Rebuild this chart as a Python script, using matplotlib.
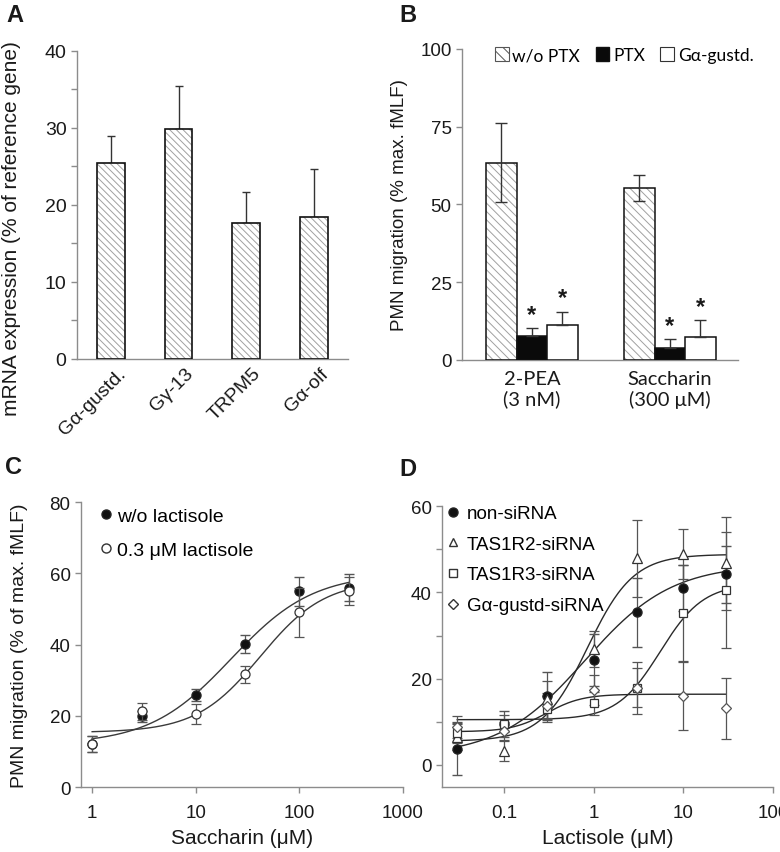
import numpy as np
import matplotlib.pyplot as plt
import matplotlib.transforms as mtransforms
from matplotlib.patches import Patch
from matplotlib.lines import Line2D
from matplotlib.ticker import MultipleLocator, FixedLocator, NullLocator

plt.rcParams['font.family'] = ['Liberation Sans', 'DejaVu Sans']
plt.rcParams['hatch.linewidth'] = 0.7

# --- Panel A: mRNA expression
genes = ['Gα-gustd.', 'Gγ-13', 'TRPM5', 'Gα-olf']
mrna = [25.4, 29.8, 17.6, 18.4]
mrna_err = [3.5, 5.7, 4.1, 6.3]

# --- Panel B: PMN migration, PTX / Gα-gustd.
stimuli = ['2-PEA\n(3 nM)', 'Saccharin\n(300 μM)']
b_series = ['w/o PTX', 'PTX', 'Gα-gustd.']
mig_ctrl = [63.5, 55.2]
mig_ctrl_err = [12.7, 4.2]
mig_ptx = [7.8, 4.0]
mig_ptx_err = [2.4, 2.6]
mig_gust = [11.2, 7.3]
mig_gust_err = [4.3, 5.5]

# --- Panel C: saccharin dose response
sacch = [1, 3, 10, 30, 100, 300]
c_ctrl = [12.0, 19.8, 25.9, 40.1, 54.9, 56.0]
c_ctrl_err = [2.3, 1.5, 1.7, 2.6, 4.1, 3.8]
c_lact = [12.1, 21.2, 20.5, 31.7, 49.0, 55.0]
c_lact_err = [2.3, 2.4, 2.8, 2.4, 7.0, 4.0]
# fitted curves (bottom, top, EC50, hill slope)
c_ctrl_fit = (12.0, 60.0, 22.0, 1.1)
c_lact_fit = (15.3, 58.0, 42.0, 1.4)

# --- Panel D: lactisole dose response
lact = [0.03, 0.1, 0.3, 1, 3, 10, 30]
d_non = [3.7, 9.5, 16.0, 24.3, 35.4, 41.0, 44.2]
d_non_err = [6.0, 2.9, 5.5, 6.0, 8.0, 5.3, 6.6]
d_r2 = [6.4, 3.3, 15.2, 26.9, 47.9, 48.9, 46.7]
d_r2_err = [3.0, 2.3, 4.3, 4.2, 8.9, 5.8, 10.8]
d_r3 = [7.5, 9.6, 13.0, 14.3, 17.8, 35.1, 40.5]
d_r3_err = [2.5, 2.0, 3.0, 2.7, 6.0, 11.3, 13.4]
d_gust = [8.8, 7.9, 13.7, 17.4, 17.9, 16.1, 13.1]
d_gust_err = [2.5, 2.0, 3.0, 3.5, 4.5, 8.0, 7.1]
d_non_fit = (2.0, 46.5, 0.8, 0.9)
d_r2_fit = (5.5, 48.8, 0.85, 1.7)
d_r3_fit = (10.5, 42.0, 5.5, 1.8)
d_gust_fit = (7.7, 16.4, 0.3, 2.2)


def hill(x, bottom, top, ec50, h):
    return bottom + (top - bottom) / (1 + (ec50 / x) ** h)


AX = '#8c8c8c'
TXT = '#1a1a1a'
FS = 13.5


def style(ax, size=FS):
    for s in ['top', 'right']:
        ax.spines[s].set_visible(False)
    for s in ['left', 'bottom']:
        ax.spines[s].set_color(AX)
        ax.spines[s].set_linewidth(1.0)
    ax.tick_params(which='both', direction='out', color=AX, labelcolor=TXT,
                   labelsize=size, length=4, width=1)


fig = plt.figure(figsize=(7.8, 8.53), dpi=100)

# ---------------- A
axA = fig.add_axes([0.0987, 0.578, 0.3474, 0.3611])
style(axA, 14)
xa = np.arange(len(genes))
axA.bar(xa, mrna, width=0.41, color='white', edgecolor='#a0a0a0',
        hatch='\\' * 5, linewidth=0, zorder=2)
axA.bar(xa, mrna, width=0.41, fill=False, edgecolor='#111111',
        linewidth=1.2, zorder=3)
axA.errorbar(xa, mrna, yerr=[np.zeros(len(mrna)), mrna_err], fmt='none',
             ecolor='#333333', elinewidth=1.0, capsize=3, capthick=1.0, zorder=1)
axA.set_xlim(-0.5, 3.5)
axA.set_ylim(0, 40)
axA.yaxis.set_major_locator(MultipleLocator(10))
axA.yaxis.set_minor_locator(MultipleLocator(5))
axA.set_xticks(xa)
axA.set_xticklabels(genes, rotation=45, ha='right', rotation_mode='anchor')
axA.tick_params(axis='x', length=0, pad=4)
shift = mtransforms.ScaledTranslation(6 / 100, 0, fig.dpi_scale_trans)
for t in axA.get_xticklabels():
    t.set_transform(t.get_transform() + shift)
axA.set_ylabel('mRNA expression (% of reference gene)', fontsize=15, color=TXT)
axA.yaxis.set_label_coords(-0.207, 0.425)

# ---------------- B
axB = fig.add_axes([0.5923, 0.5768, 0.3538, 0.3646])
style(axB)
xb = np.arange(len(stimuli))
bw = 0.221
axB.bar(xb - bw, mig_ctrl, width=bw, color='white', edgecolor='#a0a0a0',
        hatch='\\' * 4, linewidth=0, zorder=2)
axB.bar(xb - bw, mig_ctrl, width=bw, fill=False, edgecolor='#111111',
        linewidth=1.1, zorder=3)
axB.bar(xb, mig_ptx, width=bw, color='#0a0a0a', edgecolor='#111111',
        linewidth=1.1, zorder=3)
axB.bar(xb + bw, mig_gust, width=bw, color='white', edgecolor='#111111',
        linewidth=1.1, zorder=3)
axB.errorbar(xb - bw, mig_ctrl, yerr=mig_ctrl_err, fmt='none', ecolor='#333333',
             elinewidth=1.0, capsize=4, capthick=1.0, zorder=4)
axB.errorbar(xb, mig_ptx, yerr=[np.zeros(2), mig_ptx_err], fmt='none',
             ecolor='#333333', elinewidth=1.0, capsize=4, capthick=1.0, zorder=4)
axB.errorbar(xb + bw, mig_gust, yerr=[np.zeros(2), mig_gust_err], fmt='none',
             ecolor='#333333', elinewidth=1.0, capsize=4, capthick=1.0, zorder=4)
for i in range(len(stimuli)):
    axB.text(xb[i], mig_ptx[i] + mig_ptx_err[i] + 0.8, '*', ha='center',
             va='bottom', fontsize=17, fontweight='bold', color=TXT)
    axB.text(xb[i] + bw, mig_gust[i] + mig_gust_err[i] + 0.8, '*', ha='center',
             va='bottom', fontsize=17, fontweight='bold', color=TXT)
axB.set_xlim(-0.507, 1.493)
axB.set_ylim(0, 100)
axB.yaxis.set_major_locator(MultipleLocator(25))
axB.set_xticks(xb)
axB.set_xticklabels(stimuli, fontfamily=['Lato', 'DejaVu Sans'], fontsize=14.5,
                    linespacing=1.2)
axB.tick_params(axis='x', length=0, pad=7)
axB.set_ylabel('PMN migration (% max. fMLF)', fontsize=FS, color=TXT)
axB.yaxis.set_label_coords(-0.195, 0.5)
handles = [Patch(facecolor='white', edgecolor='#555555', hatch='\\' * 3, linewidth=0.8),
           Patch(facecolor='#0a0a0a', edgecolor='#111111'),
           Patch(facecolor='white', edgecolor='#333333', linewidth=0.8)]
axB.legend(handles, b_series, loc='upper left', bbox_to_anchor=(0.075, 1.045), ncol=3,
           frameon=False, handlelength=0.8, handleheight=0.8, handletextpad=0.2,
           columnspacing=0.9, borderpad=0.2,
           prop={'family': ['Lato', 'DejaVu Sans'], 'size': 12.5})

# ---------------- C
axC = fig.add_axes([0.1038, 0.0762, 0.4128, 0.3341])
style(axC)
axC.set_xscale('log')
xc = np.geomspace(1, 300, 200)
axC.plot(xc, hill(xc, *c_ctrl_fit), color='#3a3a3a', lw=1.0, zorder=2)
axC.plot(xc, hill(xc, *c_lact_fit), color='#3a3a3a', lw=1.0, zorder=2)
axC.errorbar(sacch, c_ctrl, yerr=c_ctrl_err, fmt='o', ms=6.5, mfc='#111111',
             mec='#222222', ecolor='#555555', elinewidth=0.9, capsize=3.5, zorder=3)
axC.errorbar(sacch, c_lact, yerr=c_lact_err, fmt='o', ms=6.5, mfc='white',
             mec='#333333', mew=0.9, ecolor='#555555', elinewidth=0.9, capsize=3.5, zorder=4)
axC.set_xlim(0.78, 1000)
axC.set_ylim(0, 80)
axC.yaxis.set_major_locator(MultipleLocator(20))
axC.xaxis.set_major_locator(FixedLocator([1, 10, 100, 1000]))
axC.xaxis.set_minor_locator(NullLocator())
axC.set_xticklabels(['1', '10', '100', '1000'])
axC.tick_params(axis='x', pad=8)
axC.set_xlabel('Saccharin (μM)', fontsize=15, color=TXT, labelpad=5)
axC.set_ylabel('PMN migration (% of max. fMLF)', fontsize=14, color=TXT)
axC.yaxis.set_label_coords(-0.165, 0.5)
c_handles = [Line2D([], [], ls='none', marker='o', ms=6.5, mfc='#111111', mec='#222222'),
             Line2D([], [], ls='none', marker='o', ms=6.5, mfc='white', mec='#333333')]
axC.legend(c_handles, ['w/o lactisole', '0.3 μM lactisole'], loc='upper left',
           bbox_to_anchor=(0.012, 1.03), frameon=False, fontsize=14, handlelength=0.8,
           handletextpad=0.15, labelspacing=0.85, borderpad=0.2)

# ---------------- D
axD = fig.add_axes([0.5667, 0.0762, 0.4244, 0.3294])
style(axD)
axD.set_xscale('log')
xd = np.geomspace(0.03, 30, 200)
for fit in [d_non_fit, d_r2_fit, d_r3_fit, d_gust_fit]:
    axD.plot(xd, hill(xd, *fit), color='#2a2a2a', lw=1.0, zorder=2)
eb = dict(ecolor='#555555', elinewidth=0.9, capsize=3.5, zorder=3)
axD.errorbar(lact, d_non, yerr=d_non_err, fmt='o', ms=6.5, mfc='#111111', mec='#222222', **eb)
axD.errorbar(lact, d_r2, yerr=d_r2_err, fmt='^', ms=6.5, mfc='white', mec='#333333', mew=0.9, **eb)
axD.errorbar(lact, d_r3, yerr=d_r3_err, fmt='s', ms=5.5, mfc='white', mec='#333333', mew=0.9, **eb)
axD.errorbar(lact, d_gust, yerr=d_gust_err, fmt='D', ms=5.5, mfc='white', mec='#555555', mew=0.9, **eb)
axD.set_xlim(0.0203, 100)
axD.set_ylim(-5.1, 60)
axD.yaxis.set_major_locator(FixedLocator([0, 20, 40, 60]))
axD.yaxis.set_minor_locator(FixedLocator([10, 30, 50]))
axD.xaxis.set_major_locator(FixedLocator([0.1, 1, 10, 100]))
axD.xaxis.set_minor_locator(NullLocator())
axD.set_xticklabels(['0.1', '1', '10', '100'])
axD.tick_params(axis='x', pad=8)
axD.set_xlabel('Lactisole (μM)', fontsize=15, color=TXT, labelpad=5)
d_handles = [Line2D([], [], ls='none', marker='o', ms=6.5, mfc='#111111', mec='#222222'),
             Line2D([], [], ls='none', marker='^', ms=6, mfc='white', mec='#333333'),
             Line2D([], [], ls='none', marker='s', ms=5.5, mfc='white', mec='#333333'),
             Line2D([], [], ls='none', marker='D', ms=5.5, mfc='white', mec='#333333')]
axD.legend(d_handles, ['non-siRNA', 'TAS1R2-siRNA', 'TAS1R3-siRNA', 'Gα-gustd-siRNA'],
           loc='upper left', bbox_to_anchor=(-0.03, 1.05), frameon=False, fontsize=13.5,
           handlelength=0.8, handletextpad=0.35, labelspacing=0.72, borderpad=0.2)

# panel letters
for lbl, x, y in [('A', 0.008, 0.995), ('B', 0.512, 0.995), ('C', 0.006, 0.465), ('D', 0.512, 0.463)]:
    fig.text(x, y, lbl, fontsize=17, fontweight='bold', va='top', ha='left', color=TXT)

fig.savefig('out.png', dpi=100)
